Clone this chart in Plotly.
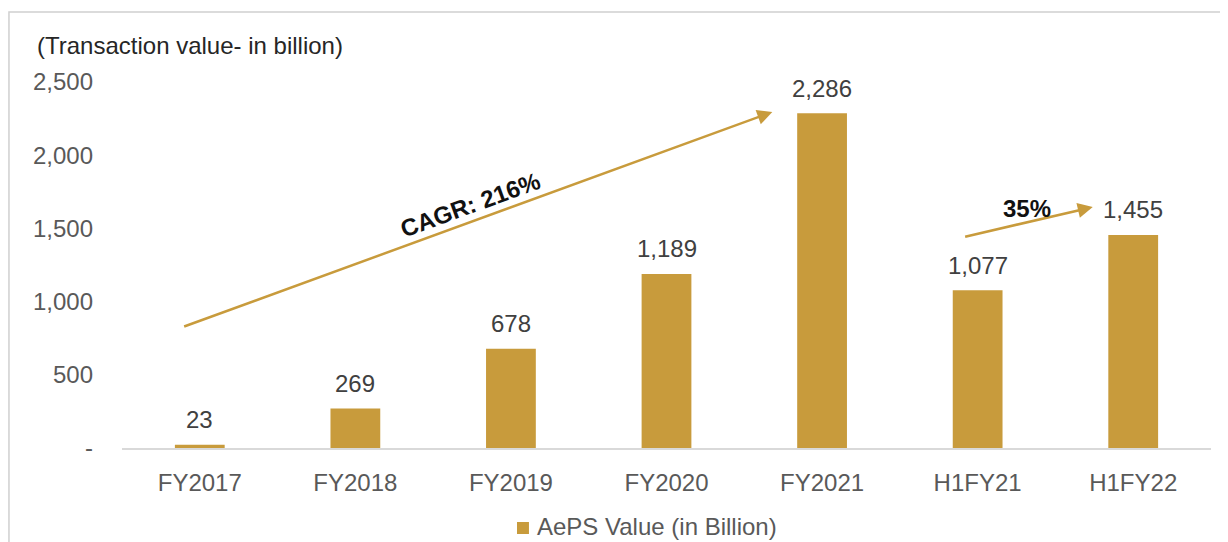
import plotly.graph_objects as go

categories = ["FY2017", "FY2018", "FY2019", "FY2020", "FY2021", "H1FY21", "H1FY22"]
values = [23, 269, 678, 1189, 2286, 1077, 1455]
value_labels = ["23", "269", "678", "1,189", "2,286", "1,077", "1,455"]
y_tickvals = [0, 500, 1000, 1500, 2000, 2500]
y_ticktext = ["-", "500", "1,000", "1,500", "2,000", "2,500"]
series_name = "AePS Value (in Billion)"

GOLD = "#C89B3C"
FONT = "Liberation Sans, Arial, sans-serif"
FS = 24

fig = go.Figure()
fig.add_trace(go.Bar(
    x=categories, y=values, name=series_name,
    marker=dict(color=GOLD, line=dict(width=0)), width=0.32, showlegend=False,
))

ann = []
for c, v, t in zip(categories, values, value_labels):
    ann.append(dict(x=c, y=v, text=t, showarrow=False, yanchor="middle",
                    yshift=25, font=dict(size=FS, color="#404040", family=FONT)))

# CAGR arrow
ann.append(dict(x=3.68, y=2295, ax=-0.11, ay=826, xref="x", yref="y", axref="x", ayref="y",
                text="", showarrow=True, arrowhead=2, arrowsize=1.2, arrowwidth=2.5,
                arrowcolor=GOLD))
ann.append(dict(x=1.743, y=1660, text="<b>CAGR: 216%</b>", showarrow=False, textangle=-20,
                font=dict(size=FS, color="#111111", family=FONT)))
# 35% arrow
ann.append(dict(x=5.74, y=1646, ax=4.91, ay=1441, xref="x", yref="y", axref="x", ayref="y",
                text="", showarrow=True, arrowhead=2, arrowsize=1.2, arrowwidth=2.5,
                arrowcolor=GOLD))
ann.append(dict(x=5.315, y=1633, text="<b>35%</b>", showarrow=False,
                font=dict(size=FS, color="#111111", family=FONT)))
# Axis title text
ann.append(dict(x=-0.08, y=1.101, xref="paper", yref="paper", xanchor="left", yanchor="middle",
                text="(Transaction value- in billion)", showarrow=False,
                font=dict(size=FS, color="#262626", family=FONT)))
# Legend text
ann.append(dict(x=0.3792, y=-0.2158, xref="paper", yref="paper", xanchor="left", yanchor="middle",
                text=series_name, showarrow=False,
                font=dict(size=FS, color="#595959", family=FONT)))

fig.update_layout(
    width=1220, height=534,
    margin=dict(l=114, r=17, t=74, b=94, autoexpand=False),
    plot_bgcolor="white", paper_bgcolor="white",
    font=dict(family=FONT, size=FS, color="#595959"),
    showlegend=False,
    annotations=ann,
    shapes=[
        dict(type="rect", xref="paper", yref="paper", x0=-0.1038, x1=1.05, y0=-0.4, y1=1.1913,
             line=dict(color="#D0D0D0", width=1.5), fillcolor="rgba(0,0,0,0)", layer="below"),
        dict(type="rect", xref="paper", yref="paper", x0=0.3627, x1=0.3737, y0=-0.2350, y1=-0.2022,
             line=dict(width=0), fillcolor=GOLD),
    ],
)
fig.update_xaxes(type="category", showgrid=False, showline=True, linecolor="#D9D9D9", linewidth=2,
                 ticks="", ticklabelstandoff=12, tickfont=dict(size=FS, color="#595959"),
                 zeroline=False, automargin=False)
fig.update_yaxes(range=[0, 2500], tickvals=y_tickvals, ticktext=y_ticktext, showgrid=False,
                 showline=False, zeroline=False, ticks="", ticklabelstandoff=28,
                 tickfont=dict(size=FS, color="#595959"), automargin=False)

fig.write_html("out.html")
